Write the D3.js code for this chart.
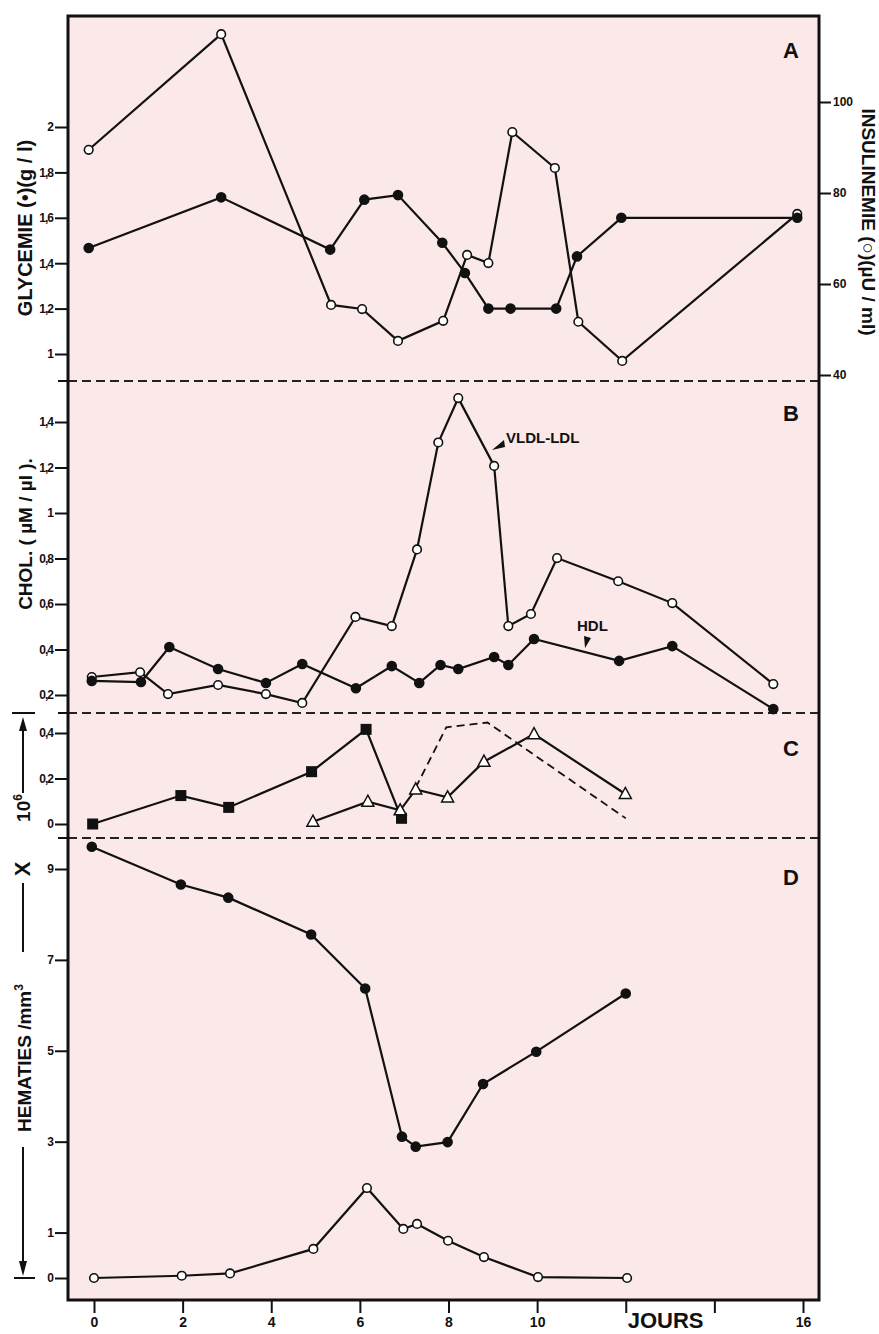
<!DOCTYPE html>
<html>
<head>
<meta charset="utf-8">
<script src="https://cdn.jsdelivr.net/npm/d3@7"></script>
<style>
  body{margin:0;background:#fff;}
  text{font-family:"Liberation Sans",Arial,sans-serif;font-weight:bold;fill:#111;}
</style>
</head>
<body>
<div id="chart"></div>
<script>
// --- data (days, values) ---
const glyDays  = [-0.12, 2.87, 5.33, 6.1, 6.86, 7.86, 8.37, 8.9, 9.4, 10.43, 10.9, 11.9, 15.87]
const glyVals  = [1.467, 1.69, 1.46, 1.68, 1.70, 1.49, 1.357, 1.2, 1.2, 1.2, 1.43, 1.6, 1.6]
const insDays  = [-0.12, 2.87, 5.35, 6.05, 6.86, 7.88, 8.42, 8.9, 9.44, 10.4, 10.93, 11.92, 15.87]
const insVals  = [89.5, 114.9, 55.4, 54.5, 47.5, 51.9, 66.4, 64.6, 93.4, 85.5, 51.7, 43.1, 75.4]

const vldlDays = [-0.05, 1.04, 1.67, 2.8, 3.88, 4.7, 5.9, 6.72, 7.29, 7.77, 8.22, 9.03, 9.35, 9.86, 10.45, 11.83, 13.05, 15.33]
const vldlVals = [0.279, 0.30, 0.204, 0.244, 0.204, 0.165, 0.543, 0.503, 0.84, 1.31, 1.505, 1.207, 0.503, 0.556, 0.802, 0.70, 0.604, 0.248]
const hdlDays  = [-0.05, 1.06, 1.7, 2.8, 3.88, 4.7, 5.91, 6.72, 7.34, 7.82, 8.22, 9.03, 9.35, 9.93, 11.85, 13.05, 15.33]
const hdlVals  = [0.262, 0.257, 0.411, 0.314, 0.253, 0.336, 0.23, 0.327, 0.253, 0.332, 0.314, 0.367, 0.332, 0.446, 0.35, 0.415, 0.138]

const sqDays   = [-0.03, 1.96, 3.04, 4.91, 6.14, 6.94]
const sqVals   = [0.0, 0.125, 0.073, 0.23, 0.416, 0.025]
const triDays  = [4.94, 6.18, 6.91, 7.26, 7.98, 8.8, 9.93, 11.99]
const triVals  = [0.01, 0.098, 0.06, 0.152, 0.117, 0.274, 0.395, 0.132]
const dashDays = [7.26, 7.95, 8.88, 12.0]
const dashVals = [0.16, 0.425, 0.446, 0.025]

const hemDays  = [-0.05, 1.96, 3.03, 4.9, 6.12, 6.95, 7.26, 7.98, 8.78, 9.98, 12.0]
const hemVals  = [9.49, 8.66, 8.37, 7.56, 6.37, 3.11, 2.89, 2.99, 4.27, 4.98, 6.26]
const hOpDays  = [0, 1.98, 3.07, 4.95, 6.16, 6.98, 7.29, 7.99, 8.8, 10.02, 12.03]
const hOpVals  = [0, 0.05, 0.1, 0.64, 1.98, 1.08, 1.19, 0.82, 0.46, 0.02, 0]

const xTicks    = [0, 2, 4, 6, 8, 10, 12, 14, 16]
const xTickText = ["0", "2", "4", "6", "8", "10", "", "", "16"]
const aTicks = [1, 1.2, 1.4, 1.6, 1.8, 2]
const aRight = [40, 60, 80, 100]
const bTicks = [0.2, 0.4, 0.6, 0.8, 1, 1.2, 1.4]
const cTicks = [0, 0.2, 0.4]
const dTicks = [0, 1, 3, 5, 7, 9]

// --- layout ---
const W = 879, H = 1334
const fL = 68, fR = 819, fT = 16, fB = 1300
const divA = 381, divB = 713, divC = 838

const x  = d3.scaleLinear().domain([0, 16]).range([94, 803])
const yA = d3.scaleLinear().domain([1, 2]).range([354, 127])
const yI = d3.scaleLinear().domain([40, 100]).range([375, 102])
const yB = d3.scaleLinear().domain([0.2, 1.4]).range([695, 422])
const yC = d3.scaleLinear().domain([0, 0.4]).range([824, 733])
const yD = d3.scaleLinear().domain([0, 9]).range([1278, 869])

const comma = v => String(v).replace(".", ",")

const svg = d3.select("#chart").append("svg")
  .attr("width", W).attr("height", H)

svg.append("rect")
  .attr("x", fL).attr("y", fT)
  .attr("width", fR - fL).attr("height", fB - fT)
  .attr("fill", "#fbe8e8")

// dashed panel separators
svg.selectAll(null).data([divA, divB, divC]).join("line")
  .attr("x1", fL).attr("x2", fR)
  .attr("y1", d => d).attr("y2", d => d)
  .attr("stroke", "#222").attr("stroke-width", 2)
  .attr("stroke-dasharray", "9,5")

// frame
svg.append("rect")
  .attr("x", fL).attr("y", fT)
  .attr("width", fR - fL).attr("height", fB - fT)
  .attr("fill", "none").attr("stroke", "#111").attr("stroke-width", 3)

// y axes
function leftAxis(scale, ticks){
  const g = svg.append("g").attr("transform", "translate(" + fL + ",0)")
    .call(d3.axisLeft(scale).tickValues(ticks).tickFormat(comma).tickSize(13).tickPadding(2))
  g.select(".domain").remove()
  g.selectAll("line").attr("stroke", "#111").attr("stroke-width", 2)
  g.selectAll("text").style("font-size", "12px").style("letter-spacing", "-1px")
    .style("font-family", "Liberation Sans, Arial").style("font-weight", "bold").attr("fill", "#111")
}
leftAxis(yA, aTicks)
leftAxis(yB, bTicks)
leftAxis(yC, cTicks)
leftAxis(yD, dTicks)

// small ticks at separators
svg.selectAll(null).data([divA, divB, divC]).join("line")
  .attr("x1", fL - 10).attr("x2", fL)
  .attr("y1", d => d).attr("y2", d => d)
  .attr("stroke", "#111").attr("stroke-width", 2)

const gR = svg.append("g").attr("transform", "translate(" + fR + ",0)")
  .call(d3.axisRight(yI).tickValues(aRight).tickSize(12).tickPadding(2))
gR.select(".domain").remove()
gR.selectAll("line").attr("stroke", "#111").attr("stroke-width", 2)
gR.selectAll("text").style("font-size", "12px").style("font-family", "Liberation Sans, Arial").style("font-weight", "bold").attr("fill", "#111")

// x axis
const gX = svg.append("g").attr("transform", "translate(0," + fB + ")")
  .call(d3.axisBottom(x).tickValues(xTicks).tickFormat((d, i) => xTickText[i]).tickSize(13).tickPadding(4))
gX.select(".domain").remove()
gX.selectAll("line").attr("stroke", "#111").attr("stroke-width", 2)
gX.selectAll("text").style("font-size", "14px").style("font-family", "Liberation Sans, Arial").style("font-weight", "bold").attr("fill", "#111")

svg.append("text").attr("x", x(12) + 2).attr("y", 1328)
  .style("font-size", "22px").text("JOURS")

// --- series drawing helpers ---
const line = d3.line()
function series(days, vals, scale, dash){
  const pts = days.map((d, i) => [x(d), scale(vals[i])])
  svg.append("path").attr("d", line(pts))
    .attr("fill", "none").attr("stroke", "#111").attr("stroke-width", dash ? 1.8 : 2.2)
    .attr("stroke-dasharray", dash ? "8,5" : null)
  return pts
}
function dots(pts, filled){
  svg.selectAll(null).data(pts).join("circle")
    .attr("cx", d => d[0]).attr("cy", d => d[1])
    .attr("r", filled ? 4.5 : 4.3)
    .attr("fill", filled ? "#111" : "#fff")
    .attr("stroke", "#111").attr("stroke-width", 1.6)
}
function squares(pts){
  svg.selectAll(null).data(pts).join("rect")
    .attr("x", d => d[0] - 5.5).attr("y", d => d[1] - 5.5)
    .attr("width", 11).attr("height", 11).attr("fill", "#111")
}
function triangles(pts){
  svg.selectAll(null).data(pts).join("path")
    .attr("d", d => "M" + d[0] + "," + (d[1] - 6.5) + "L" + (d[0] + 6) + "," + (d[1] + 4.5) + "L" + (d[0] - 6) + "," + (d[1] + 4.5) + "Z")
    .attr("fill", "#fff").attr("stroke", "#111").attr("stroke-width", 1.5)
}

// panel A
const insPts = series(insDays, insVals, yI)
const glyPts = series(glyDays, glyVals, yA)
dots(insPts, false)
dots(glyPts, true)

// panel B
const vPts = series(vldlDays, vldlVals, yB)
const hPts = series(hdlDays, hdlVals, yB)
dots(vPts, false)
dots(hPts, true)

// panel C
series(dashDays, dashVals, yC, true)
const sPts = series(sqDays, sqVals, yC)
const tPts = series(triDays, triVals, yC)
squares(sPts)
triangles(tPts)

// panel D
const dPts = series(hemDays, hemVals, yD)
const oPts = series(hOpDays, hOpVals, yD)
dots(dPts, true)
dots(oPts, false)

// panel letters
const letters = [["A", 50], ["B", 413], ["C", 748], ["D", 877]]
svg.selectAll(null).data(letters).join("text")
  .attr("x", 791).attr("y", d => d[1]).attr("text-anchor", "middle")
  .attr("dominant-baseline", "central")
  .style("font-size", "22px").text(d => d[0])

// annotations in B
svg.append("text").attr("x", 506).attr("y", 443).style("font-size", "15px").text("VLDL-LDL")
svg.append("path").attr("d", "M492,450 L504,440 L505,447 Z").attr("fill", "#111")
svg.append("text").attr("x", 577).attr("y", 631).style("font-size", "15px").text("HDL")
svg.append("path").attr("d", "M585,648 L584,636 L591,638 Z").attr("fill", "#111")

// y titles
svg.append("text").attr("transform", "translate(32,228) rotate(-90)")
  .attr("text-anchor", "middle").style("font-size", "20px").text("GLYCEMIE (•)(g / l)")
svg.append("text").attr("transform", "translate(862,222) rotate(90)")
  .attr("text-anchor", "middle").style("font-size", "19px").text("INSULINEMIE (○)(µU / ml)")
svg.append("text").attr("transform", "translate(32,534) rotate(-90)")
  .attr("text-anchor", "middle").style("font-size", "19px").text("CHOL. ( µM / µl ).")

// C / D shared label with arrows
const arrowX = 23
svg.append("line").attr("x1", 12).attr("x2", 35).attr("y1", divB).attr("y2", divB)
  .attr("stroke", "#111").attr("stroke-width", 2)
svg.append("line").attr("x1", arrowX).attr("x2", arrowX).attr("y1", 728).attr("y2", 793)
  .attr("stroke", "#111").attr("stroke-width", 2)
svg.append("path").attr("d", `M${arrowX},717 L${arrowX + 4},731 L${arrowX - 4},731 Z`).attr("fill", "#111")
svg.append("text").attr("transform", "translate(30,808) rotate(-90)")
  .attr("text-anchor", "middle").style("font-size", "19px")
  .text("10").append("tspan").attr("dy", -8).style("font-size", "12px").text("6")
svg.append("text").attr("transform", "translate(30,869) rotate(-90)")
  .attr("text-anchor", "middle").style("font-size", "22px").text("X")
svg.append("line").attr("x1", arrowX).attr("x2", arrowX).attr("y1", 883).attr("y2", 952)
  .attr("stroke", "#111").attr("stroke-width", 2)
svg.append("text").attr("transform", "translate(31,1058) rotate(-90)")
  .attr("text-anchor", "middle").style("font-size", "19px")
  .text("HEMATIES /mm").append("tspan").attr("dy", -8).style("font-size", "12px").text("3")
svg.append("line").attr("x1", arrowX).attr("x2", arrowX).attr("y1", 1147).attr("y2", 1262)
  .attr("stroke", "#111").attr("stroke-width", 2)
svg.append("path").attr("d", `M${arrowX},1276 L${arrowX + 4},1261 L${arrowX - 4},1261 Z`).attr("fill", "#111")
svg.append("line").attr("x1", 14).attr("x2", 35).attr("y1", 1278).attr("y2", 1278)
  .attr("stroke", "#111").attr("stroke-width", 2)
</script>
</body>
</html>
